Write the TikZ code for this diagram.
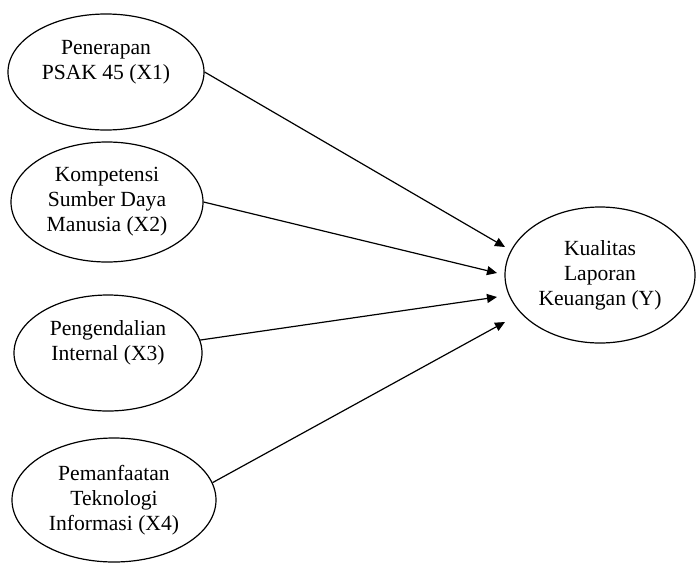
\documentclass[tikz,border=0pt]{standalone}
\usepackage{fontspec}
\setmainfont{Liberation Serif}
\usepackage{tikz}
\usetikzlibrary{arrows.meta, shapes, positioning}

\begin{document}
\begin{tikzpicture}[x=0.5pt, y=-0.5pt,
	var/.style={draw, ellipse, semithick, inner sep=0pt, align=center,
	font=\fontsize{10.8}{12.5}\selectfont},
	>={Triangle[length=5pt, width=4.5pt]}]
			\useasboundingbox (0,0) rectangle (696,563);

			\node (x1) [var, minimum width=98pt, minimum height=58pt] at (106,72) {Penerapan\\PSAK 45 (X1)\\};
			\node (x2) [var, minimum width=96pt, minimum height=60pt] at (107,202) {Kompetensi\\Sumber Daya\\Manusia (X2)};
			\node (x3) [var, minimum width=94pt, minimum height=58pt] at (108,353) {Pengendalian\\Internal (X3)\\};
			\node (x4) [var, minimum width=102pt, minimum height=62pt] at (114,500) {Pemanfaatan\\Teknologi\\Informasi (X4)};
			\node (y) [var, minimum width=95pt, minimum height=68pt] at (600,275) {Kualitas\\Laporan\\Keuangan (Y)};

			% arrow tips stop short of the ellipse
			\coordinate (y1) at (505,247);
			\coordinate (y2) at (497,273);
			\coordinate (y3) at (497,297);
			\coordinate (y4) at (505,322);

			\draw [semithick, ->] (x1.east) -- (y1);
			\draw [semithick, ->] (x2.east) -- (y2);
			\draw [semithick, ->] (x3.8) -- (y3);
			\draw [semithick, ->] (x4.10) -- (y4);
		\end{tikzpicture}
\end{document}
